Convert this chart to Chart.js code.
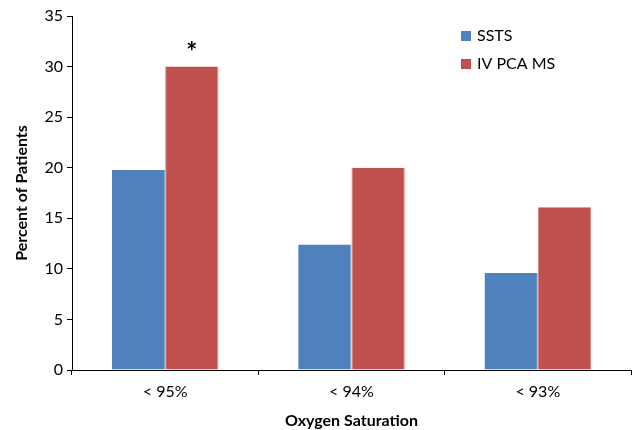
<!DOCTYPE html>
<html lang="en">
<head>
    <meta charset="UTF-8">
    <title>Oxygen Saturation</title>
    <script src="https://cdn.jsdelivr.net/npm/chart.js"></script>
    <style>
        html, body { margin: 0; padding: 0; background: #fff; }
        .grafico { width: 636px; height: 430px; position: relative; }
    </style>
</head>
<body>
<div class="grafico">
    <canvas id="saturacaoChart"></canvas>
</div>
<script>
    // dados
    const categorias = ['< 95%', '< 94%', '< 93%'];
    const valoresSSTS = [19.8, 12.4, 9.6];
    const valoresPCA = [30, 20, 16.1];
    const marcasPCA = ['*', '', ''];
    const nomesSeries = ['SSTS', 'IV PCA MS'];

    const azul = '#4F81BD';
    const vermelho = '#C0504D';
    const fonte = 'Lato, "Open Sans", sans-serif';

    // legenda desenhada dentro da área do gráfico
    const legendaInterna = {
        id: 'legendaInterna',
        afterDraw(chart) {
            const ctx = chart.ctx;
            ctx.save();
            ctx.font = '16px ' + fonte;
            ctx.textBaseline = 'middle';
            chart.data.datasets.forEach((ds, i) => {
                const y = 36 + i * 28;
                ctx.fillStyle = ds.backgroundColor;
                ctx.fillRect(461, y - 5, 10, 10);
                ctx.fillStyle = '#000';
                ctx.fillText(ds.label, 477, y);
            });
            ctx.restore();
        }
    };

    // asterisco acima da barra
    const marcas = {
        id: 'marcas',
        afterDatasetsDraw(chart) {
            const ctx = chart.ctx;
            const meta = chart.getDatasetMeta(1);
            ctx.save();
            ctx.font = 'bold 26px ' + fonte;
            ctx.fillStyle = '#000';
            ctx.textAlign = 'center';
            ctx.textBaseline = 'middle';
            meta.data.forEach((bar, i) => {
                if (marcasPCA[i]) ctx.fillText(marcasPCA[i], bar.x, bar.y - 14);
            });
            ctx.restore();
        }
    };

    const ctx = document.getElementById('saturacaoChart').getContext('2d');
    new Chart(ctx, {
        type: 'bar',
        data: {
            labels: categorias,
            datasets: [
                {
                    label: nomesSeries[0],
                    data: valoresSSTS,
                    backgroundColor: azul,
                    borderColor: '#7FA3D0',
                    borderWidth: { right: 1 }
                },
                {
                    label: nomesSeries[1],
                    data: valoresPCA,
                    backgroundColor: vermelho,
                    borderColor: '#D8827F',
                    borderWidth: { left: 1, right: 1 }
                }
            ]
        },
        options: {
            responsive: true,
            maintainAspectRatio: false,
            animation: false,
            datasets: {
                bar: { categoryPercentage: 0.572, barPercentage: 1 }
            },
            layout: { padding: { top: 16, right: 5, left: 0, bottom: 0 } },
            plugins: {
                legend: { display: false },
                tooltip: { enabled: false }
            },
            scales: {
                x: {
                    afterFit: s => { s.height = 60; },
                    grid: {
                        offset: true,
                        drawOnChartArea: false,
                        drawTicks: true,
                        tickLength: 5,
                        color: '#000'
                    },
                    border: { color: '#000', width: 1 },
                    ticks: {
                        color: '#000',
                        padding: 7,
                        font: { family: fonte, size: 16 }
                    },
                    title: {
                        display: true,
                        text: 'Oxygen Saturation',
                        color: '#000',
                        padding: { top: 4, bottom: 0 },
                        font: { family: fonte, size: 16, weight: 'bold' }
                    }
                },
                y: {
                    min: 0,
                    max: 35,
                    afterFit: s => { s.width = 72; },
                    grid: {
                        drawOnChartArea: false,
                        drawTicks: true,
                        tickLength: 5,
                        color: '#000'
                    },
                    border: { color: '#000', width: 1 },
                    ticks: {
                        stepSize: 5,
                        color: '#000',
                        padding: 4,
                        font: { family: fonte, size: 16 }
                    },
                    title: {
                        display: true,
                        text: 'Percent of Patients',
                        color: '#000',
                        padding: { top: 12, bottom: 0 },
                        font: { family: fonte, size: 16, weight: 'bold' }
                    }
                }
            }
        },
        plugins: [legendaInterna, marcas]
    });
</script>
</body>
</html>
